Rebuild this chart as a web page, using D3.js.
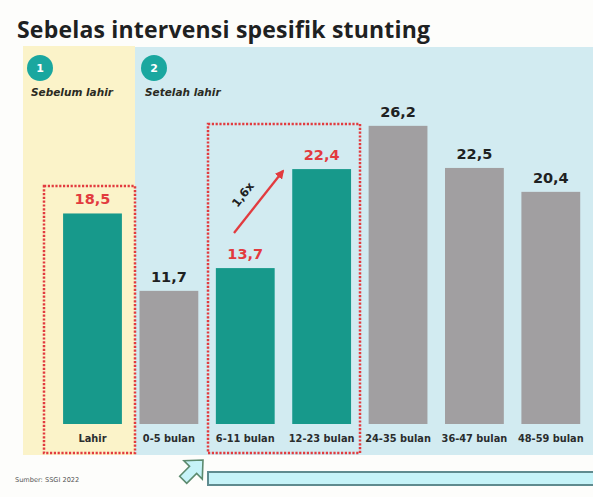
<!DOCTYPE html>
<html>
<head>
<meta charset="utf-8">
<script src="https://cdn.jsdelivr.net/npm/d3@7/dist/d3.min.js"></script>
<style>
  html, body { margin: 0; padding: 0; background: #fdfdfb; }
  svg { display: block; }
</style>
</head>
<body>
<svg id="chart" width="593" height="497"></svg>
<script>
// Stunting prevalence (%) by age group, SSGI 2022
const categories = ["Lahir", "0-5 bulan", "6-11 bulan", "12-23 bulan", "24-35 bulan", "36-47 bulan", "48-59 bulan"];
const values = [18.5, 11.7, 13.7, 22.4, 26.2, 22.5, 20.4];
const highlighted = [true, false, true, true, false, false, false];
const valueLabels = ["18,5", "11,7", "13,7", "22,4", "26,2", "22,5", "20,4"];
const phases = [
  { num: "1", label: "Sebelum lahir" },
  { num: "2", label: "Setelah lahir" }
];
const growthLabel = "1,6x";
const titleText = "Sebelas intervensi spesifik stunting";
const sourceText = "Sumber: SSGI 2022";

const svg = d3.select("#chart");
const teal = "#17998b";
const gray = "#a19fa1";
const red = "#e23b3f";
const ink = "#1e2122";
const titleFont = "'Open Sans', 'Liberation Sans', sans-serif";
const font = "'DejaVu Sans', 'Open Sans', sans-serif";

const x = d3.scaleBand().domain(categories).range([54.3, 589]).paddingInner(0.23).paddingOuter(0.115);
const y = d3.scaleLinear().domain([0, 30]).range([424, 424 - 30 * 11.38]);

// Title
svg.append("text")
  .attr("x", 17).attr("y", 38)
  .attr("font-family", titleFont).attr("font-weight", 700).attr("font-size", 23)
  .attr("fill", ink).attr("letter-spacing", 0.2)
  .text(titleText);

// Phase panels: before birth / after birth
const panelTop = 46, panelBottom = 455, split = 135;
svg.append("rect").attr("x", 23).attr("y", panelTop).attr("width", split - 23).attr("height", panelBottom - panelTop).attr("fill", "#fbf3c9");
svg.append("rect").attr("x", split).attr("y", panelTop + 1).attr("width", 593 - split).attr("height", panelBottom - panelTop - 1).attr("fill", "#d2ebf1");

const phaseX = [40, 154];
phases.forEach((p, i) => {
  svg.append("circle").attr("cx", phaseX[i]).attr("cy", 68).attr("r", 13).attr("fill", "#1aa79f");
  svg.append("text").attr("x", phaseX[i]).attr("y", 72)
    .attr("text-anchor", "middle")
    .attr("font-family", font).attr("font-weight", 700).attr("font-size", 11).attr("fill", "#fff").text(p.num);
  svg.append("text").attr("x", i === 0 ? 31 : 145).attr("y", 96)
    .attr("font-family", font).attr("font-weight", 700).attr("font-style", "italic").attr("font-size", 10.5)
    .attr("fill", "#2a2a22").text(p.label);
});

// Bars
const rows = categories.map((c, i) => ({ c, v: values[i], hl: highlighted[i], lab: valueLabels[i] }));
svg.append("g").selectAll("rect").data(rows).join("rect")
  .attr("x", d => x(d.c)).attr("width", x.bandwidth())
  .attr("y", d => y(d.v)).attr("height", d => y(0) - y(d.v))
  .attr("fill", d => d.hl ? teal : gray);

// Value labels
svg.append("g").selectAll("text").data(rows).join("text")
  .attr("x", d => x(d.c) + x.bandwidth() / 2).attr("y", d => y(d.v) - 9)
  .attr("text-anchor", "middle")
  .attr("font-family", font).attr("font-weight", 700).attr("font-size", 14.5)
  .attr("fill", d => d.hl ? red : ink).text(d => d.lab);

// Category labels
svg.append("g").selectAll("text").data(rows).join("text")
  .attr("x", d => x(d.c) + x.bandwidth() / 2).attr("y", 442)
  .attr("text-anchor", "middle")
  .attr("font-family", font).attr("font-weight", 700).attr("font-size", 9.8)
  .attr("fill", "#2a2d2e").text(d => d.c);

// Dotted highlight frames
const frame = (x0, y0, x1, y1) => svg.append("rect")
  .attr("x", x0).attr("y", y0).attr("width", x1 - x0).attr("height", y1 - y0)
  .attr("fill", "none").attr("stroke", red).attr("stroke-width", 2.5).attr("stroke-dasharray", "2.2,1.6");
frame(44, 186, 135, 453);
frame(208, 124, 360, 453);

// Growth arrow between 6-11 and 12-23 months
svg.append("defs").append("marker")
  .attr("id", "head").attr("viewBox", "0 0 10 10").attr("refX", 8).attr("refY", 5)
  .attr("markerWidth", 4).attr("markerHeight", 4).attr("orient", "auto")
  .append("path").attr("d", "M0,0 L10,5 L0,10 Z").attr("fill", red);
svg.append("line").attr("x1", 234).attr("y1", 233).attr("x2", 283).attr("y2", 171)
  .attr("stroke", red).attr("stroke-width", 2.3).attr("marker-end", "url(#head)");
svg.append("text").attr("transform", "translate(246,197) rotate(-52)")
  .attr("text-anchor", "middle")
  .attr("font-family", font).attr("font-weight", 700).attr("font-size", 11.5).attr("fill", ink).text(growthLabel);

// Source note
svg.append("text").attr("x", 15).attr("y", 482)
  .attr("font-family", font).attr("font-size", 6.6).attr("fill", "#555")
  .text(sourceText);

// Timeline strip with pointer arrow
svg.append("rect").attr("x", 208).attr("y", 472).attr("width", 400).attr("height", 13)
  .attr("fill", "#c6f3f8").attr("stroke", "#5f8b8f").attr("stroke-width", 2);
svg.append("path")
  .attr("d", "M0,-5 L14,-5 L14,-13 L28,0 L14,13 L14,5 L0,5 Z")
  .attr("transform", "translate(203,460) rotate(-45) translate(-28,0)")
  .attr("fill", "#c6f3f8").attr("stroke", "#5c8a6e").attr("stroke-width", 1.6).attr("stroke-linejoin", "miter");
</script>
</body>
</html>
